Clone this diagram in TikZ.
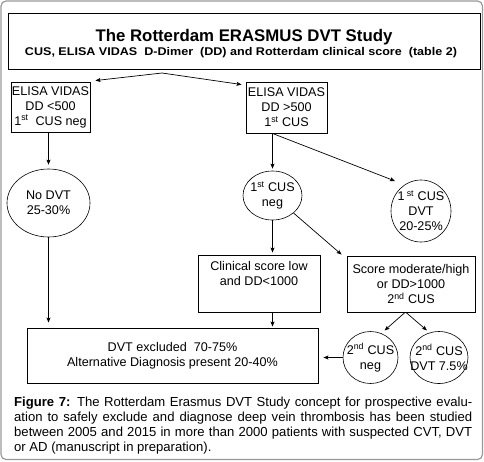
\documentclass[tikz,border=0pt]{standalone}
\usepackage{fontspec}
\setmainfont{Liberation Sans}
\usetikzlibrary{shapes.geometric,arrows.meta,calc}
\begin{document}
\begin{tikzpicture}[x=1pt,y=-1pt,
  every node/.style={font=\fontsize{12.6}{15}\selectfont, text=black, inner sep=0pt, align=center},
  boxnode/.style={draw, line width=0.9pt, rectangle},
  oval/.style={draw, line width=0.6pt, ellipse},
  arr/.style={-{Stealth[length=5pt,width=4pt,inset=1pt]}, line width=0.7pt},
  captext/.style={anchor=base west, font=\fontsize{13.1}{15}\selectfont}]
\useasboundingbox (0,0) rectangle (484,461);
\draw[black!40, line width=1.2pt, rounded corners=5pt] (1,1) rectangle (482.5,459.5);

% title
\node[boxnode, minimum width=472pt, minimum height=56pt] (title) at (244,41) {};
\node[anchor=base, font=\fontsize{16.8}{19}\selectfont\bfseries] (t1) at (244,41) {The Rotterdam ERASMUS DVT Study};
\node[anchor=base, font=\fontsize{11.2}{13}\selectfont\bfseries] (t2) at (241,55.5)
  {\resizebox{432pt}{\height}{CUS, ELISA VIDAS\ \ D-Dimer\ \ (DD) and Rotterdam clinical score\ \ (table 2)}};

% boxes
\node[boxnode, minimum width=79pt, minimum height=50pt] (leftbox) at (50.5,107)
  {ELISA VIDAS\\DD <500\\1\textsuperscript{st}\ \ CUS neg};
\node[boxnode, minimum width=81pt, minimum height=51pt] (rightbox) at (286.5,107.5)
  {ELISA VIDAS\\DD >500\\1\textsuperscript{st} CUS};
\node[boxnode, minimum width=122pt, minimum height=57pt] (clin) at (259,283.5)
  {Clinical score low\\and DD<1000\\\strut};
\node[boxnode, minimum width=128pt, minimum height=56pt] (score) at (411,284)
  {Score moderate/high\\or DD>1000\\2\textsuperscript{nd} CUS};
\node[boxnode, minimum width=291pt, minimum height=55pt] (bottom) at (172.5,355.5)
  {DVT excluded\ \ 70-75\%\\Alternative Diagnosis present 20-40\%};

% ellipses
\node[oval, minimum width=83pt, minimum height=68pt, label={center:No DVT\\25-30\%}] (nodvt) at (48.5,203) {};
\node[oval, minimum width=59pt, minimum height=49pt, label={center:1\textsuperscript{st} CUS\\neg}] (cusneg) at (272.5,195.5) {};
\node[oval, minimum width=60pt, minimum height=62pt, label={center:1\,\textsuperscript{st} CUS\\DVT\\20-25\%}] (cusdvt) at (421,211) {};
\node[oval, minimum width=55pt, minimum height=52pt, label={center:2\textsuperscript{nd} CUS\\neg}] (cus2neg) at (370.5,357.5) {};
\node[oval, minimum width=58pt, minimum height=52pt, label={center:2\textsuperscript{nd} CUS\\DVT 7.5\%}] (cus2dvt) at (439,357.5) {};

% connectors
\coordinate (apex) at (162,73);
\draw[arr] (apex) -- ($(leftbox.north east)+(5,-1)$);
\draw[arr] (apex) -- ($(rightbox.north west)+(-4,3)$);
\draw[arr] (nodvt.north |- leftbox.south) -- ($(nodvt.north)+(0,-4)$);
\draw[arr, shorten >=5pt] (nodvt.south) -- (nodvt.south |- bottom.north);
\draw[arr, shorten >=2pt] (cusneg.north |- rightbox.south) -- (cusneg.north);
\draw[arr] (cusneg.north |- rightbox.south) -- ($(cusdvt)+(-26,-30)$);
\draw[arr, shorten >=2pt] (cusneg.south) -- (cusneg.south |- clin.north);
\draw[arr] (cusneg.south east) -- ($(score.north west)+(-5,-1)$);
\draw[arr, shorten >=1pt] (cusneg.south |- clin.south) -- (cusneg.south |- bottom.north);
\draw[arr] ($(score.south)+(-6,0)$) -- ($(cus2neg)+(14,-27)$);
\draw[arr] ($(score.south)+(-5,0)$) -- ($(cus2dvt)+(-12,-27)$);
\draw[arr, shorten >=5pt] (cus2neg.west) -- (cus2neg.west -| bottom.east);

% caption
\node[captext] (cap1) at (14,406.7) {\makebox[458pt][s]{\textbf{Figure 7:} The Rotterdam Erasmus DVT Study concept for prospective evalu-}};
\node[captext] (cap2) at (14,421.7) {\makebox[458pt][s]{ation to safely exclude and diagnose deep vein thrombosis has been studied}};
\node[captext] (cap3) at (14,436.4) {\makebox[458pt][s]{between 2005 and 2015 in more than 2000 patients with suspected CVT, DVT}};
\node[captext] (cap4) at (14,451.1) {or AD (manuscript in preparation).};
\end{tikzpicture}
\end{document}
